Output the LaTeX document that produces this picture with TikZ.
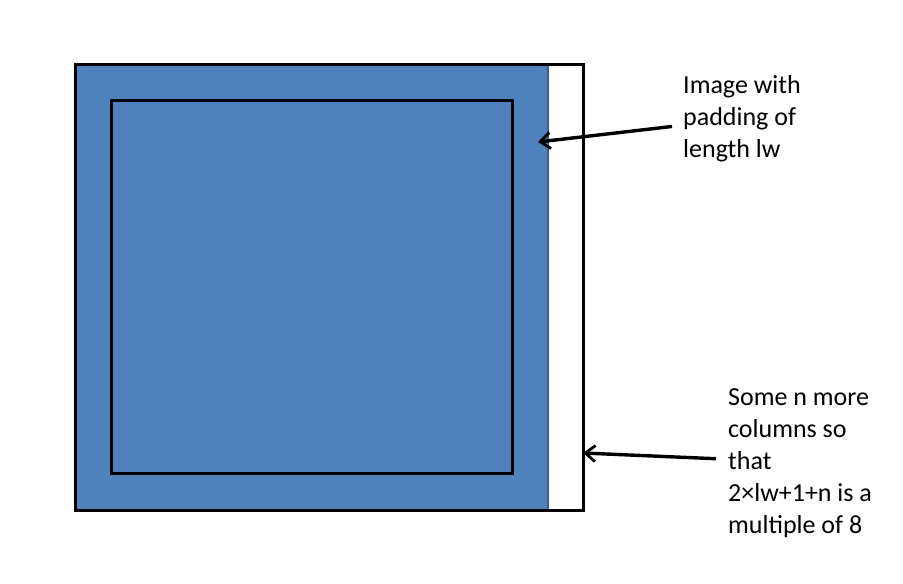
\documentclass[tikz,border=0pt]{standalone}
\usepackage{fontspec}
\setmainfont{Carlito}
\usepackage{tikz}
\usetikzlibrary{arrows.meta}
\definecolor{imgblue}{HTML}{4F81BD}
\definecolor{imgedge}{HTML}{385D8A}

\begin{document}
\begin{tikzpicture}[
        x=1pt, y=-1pt,
        frame/.style={draw=black, line width=2.6pt},
        note/.style={align=left, inner sep=0pt, anchor=north west,
                     font=\fontsize{26}{32}\selectfont},
        arrow/.style={-{Straight Barb[length=10pt, width=16pt, line width=2.8pt]},
                      line width=3.4pt, black}
    ]
        \useasboundingbox (0,0) rectangle (903,584);
        % padded image and the extra columns
        \fill[imgblue] (74,63) rectangle (548,509);
        \draw[imgedge, line width=1.5pt] (548,63) -- (548,509);
        \node[frame, minimum width=508pt, minimum height=446pt, anchor=north west, inner sep=0pt] (outer) at (74,63) {};
        \node[frame, minimum width=401pt, minimum height=373pt, anchor=north west, inner sep=0pt] (inner) at (110,99) {};

        \node[note] (pad) at (683,75) {Image with\\padding of\\length lw};
        \node[note] (cols) at (728,388) {Some n more\\columns so\\that\\2×lw+1+n is a\\multiple of 8};

        \coordinate (padtip) at (538,142);
        \coordinate (coltip) at (583,453);
        \draw[arrow] ([xshift=-11pt, yshift=-8pt]pad.west) -- (padtip);
        \draw[arrow] ([xshift=-12pt, yshift=4pt]cols.west) -- (coltip);
    \end{tikzpicture}
\end{document}
